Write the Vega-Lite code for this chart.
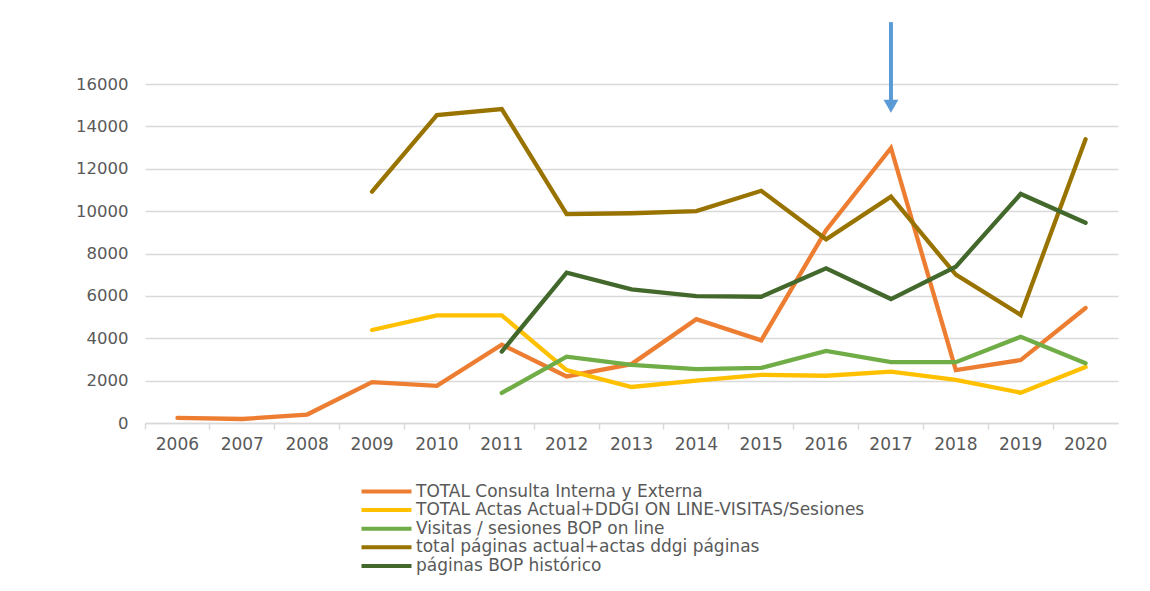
{
  "$schema": "https://vega.github.io/schema/vega-lite/v6.json",
  "width": 973,
  "height": 339,
  "autosize": {"type": "none"},
  "padding": {"left": 145, "top": 84, "right": 32, "bottom": 168},
  "background": "white",
  "config": {
    "view": {"stroke": null},
    "font": "DejaVu Sans"
  },
  "datasets": {
    "series": [
      {"year": "2006", "serie": "TOTAL Consulta Interna y Externa", "valor": 240},
      {"year": "2007", "serie": "TOTAL Consulta Interna y Externa", "valor": 190},
      {"year": "2008", "serie": "TOTAL Consulta Interna y Externa", "valor": 400},
      {"year": "2009", "serie": "TOTAL Consulta Interna y Externa", "valor": 1930},
      {"year": "2010", "serie": "TOTAL Consulta Interna y Externa", "valor": 1750},
      {"year": "2011", "serie": "TOTAL Consulta Interna y Externa", "valor": 3700},
      {"year": "2012", "serie": "TOTAL Consulta Interna y Externa", "valor": 2200},
      {"year": "2013", "serie": "TOTAL Consulta Interna y Externa", "valor": 2780},
      {"year": "2014", "serie": "TOTAL Consulta Interna y Externa", "valor": 4900},
      {"year": "2015", "serie": "TOTAL Consulta Interna y Externa", "valor": 3900},
      {"year": "2016", "serie": "TOTAL Consulta Interna y Externa", "valor": 9100},
      {"year": "2017", "serie": "TOTAL Consulta Interna y Externa", "valor": 12980},
      {"year": "2018", "serie": "TOTAL Consulta Interna y Externa", "valor": 2500},
      {"year": "2019", "serie": "TOTAL Consulta Interna y Externa", "valor": 2970},
      {"year": "2020", "serie": "TOTAL Consulta Interna y Externa", "valor": 5430},

      {"year": "2009", "serie": "TOTAL Actas Actual+DDGI ON LINE-VISITAS/Sesiones", "valor": 4390},
      {"year": "2010", "serie": "TOTAL Actas Actual+DDGI ON LINE-VISITAS/Sesiones", "valor": 5080},
      {"year": "2011", "serie": "TOTAL Actas Actual+DDGI ON LINE-VISITAS/Sesiones", "valor": 5080},
      {"year": "2012", "serie": "TOTAL Actas Actual+DDGI ON LINE-VISITAS/Sesiones", "valor": 2500},
      {"year": "2013", "serie": "TOTAL Actas Actual+DDGI ON LINE-VISITAS/Sesiones", "valor": 1700},
      {"year": "2014", "serie": "TOTAL Actas Actual+DDGI ON LINE-VISITAS/Sesiones", "valor": 2000},
      {"year": "2015", "serie": "TOTAL Actas Actual+DDGI ON LINE-VISITAS/Sesiones", "valor": 2270},
      {"year": "2016", "serie": "TOTAL Actas Actual+DDGI ON LINE-VISITAS/Sesiones", "valor": 2230},
      {"year": "2017", "serie": "TOTAL Actas Actual+DDGI ON LINE-VISITAS/Sesiones", "valor": 2420},
      {"year": "2018", "serie": "TOTAL Actas Actual+DDGI ON LINE-VISITAS/Sesiones", "valor": 2030},
      {"year": "2019", "serie": "TOTAL Actas Actual+DDGI ON LINE-VISITAS/Sesiones", "valor": 1430},
      {"year": "2020", "serie": "TOTAL Actas Actual+DDGI ON LINE-VISITAS/Sesiones", "valor": 2640},

      {"year": "2011", "serie": "Visitas / sesiones BOP on line", "valor": 1420},
      {"year": "2012", "serie": "Visitas / sesiones BOP on line", "valor": 3130},
      {"year": "2013", "serie": "Visitas / sesiones BOP on line", "valor": 2740},
      {"year": "2014", "serie": "Visitas / sesiones BOP on line", "valor": 2540},
      {"year": "2015", "serie": "Visitas / sesiones BOP on line", "valor": 2600},
      {"year": "2016", "serie": "Visitas / sesiones BOP on line", "valor": 3400},
      {"year": "2017", "serie": "Visitas / sesiones BOP on line", "valor": 2870},
      {"year": "2018", "serie": "Visitas / sesiones BOP on line", "valor": 2870},
      {"year": "2019", "serie": "Visitas / sesiones BOP on line", "valor": 4070},
      {"year": "2020", "serie": "Visitas / sesiones BOP on line", "valor": 2820},

      {"year": "2009", "serie": "total páginas actual+actas ddgi páginas", "valor": 10920},
      {"year": "2010", "serie": "total páginas actual+actas ddgi páginas", "valor": 14530},
      {"year": "2011", "serie": "total páginas actual+actas ddgi páginas", "valor": 14820},
      {"year": "2012", "serie": "total páginas actual+actas ddgi páginas", "valor": 9860},
      {"year": "2013", "serie": "total páginas actual+actas ddgi páginas", "valor": 9900},
      {"year": "2014", "serie": "total páginas actual+actas ddgi páginas", "valor": 10000},
      {"year": "2015", "serie": "total páginas actual+actas ddgi páginas", "valor": 10960},
      {"year": "2016", "serie": "total páginas actual+actas ddgi páginas", "valor": 8670},
      {"year": "2017", "serie": "total páginas actual+actas ddgi páginas", "valor": 10680},
      {"year": "2018", "serie": "total páginas actual+actas ddgi páginas", "valor": 7000},
      {"year": "2019", "serie": "total páginas actual+actas ddgi páginas", "valor": 5100},
      {"year": "2020", "serie": "total páginas actual+actas ddgi páginas", "valor": 13390},

      {"year": "2011", "serie": "páginas BOP histórico", "valor": 3370},
      {"year": "2012", "serie": "páginas BOP histórico", "valor": 7100},
      {"year": "2013", "serie": "páginas BOP histórico", "valor": 6310},
      {"year": "2014", "serie": "páginas BOP histórico", "valor": 5990},
      {"year": "2015", "serie": "páginas BOP histórico", "valor": 5960},
      {"year": "2016", "serie": "páginas BOP histórico", "valor": 7300},
      {"year": "2017", "serie": "páginas BOP histórico", "valor": 5850},
      {"year": "2018", "serie": "páginas BOP histórico", "valor": 7380},
      {"year": "2019", "serie": "páginas BOP histórico", "valor": 10810},
      {"year": "2020", "serie": "páginas BOP histórico", "valor": 9450}
    ],
    "flecha": [
      {"year": "2017", "desde": 18920, "hasta": 15200, "punta": 14950}
    ]
  },
  "layer": [
    {
      "data": {"name": "series"},
      "mark": {"type": "line", "strokeWidth": 4.3, "strokeCap": "round", "strokeJoin": "miter"},
      "encoding": {
        "x": {
          "field": "year", "type": "ordinal", "bandPosition": 0.5,
          "scale": {"type": "band", "domain": ["2006","2007","2008","2009","2010","2011","2012","2013","2014","2015","2016","2017","2018","2019","2020"], "paddingInner": 0, "paddingOuter": 0},
          "axis": {
            "title": null, "labelAngle": 0, "grid": false,
            "bandPosition": 0,
            "domainColor": "#d9d9d9", "domainWidth": 1.5,
            "tickColor": "#d9d9d9", "tickWidth": 1.5, "tickSize": 6,
            "labelFont": "DejaVu Sans", "labelFontSize": 17, "labelColor": "#595959",
            "labelPadding": 7, "labelOverlap": false
          }
        },
        "y": {
          "field": "valor", "type": "quantitative",
          "scale": {"domain": [0, 16000], "nice": false},
          "axis": {
            "title": null, "values": [0,2000,4000,6000,8000,10000,12000,14000,16000],
            "format": "d", "domain": false, "ticks": false,
            "gridColor": "#d9d9d9", "gridWidth": 1.5,
            "labelFont": "DejaVu Sans", "labelFontSize": 16.5, "labelColor": "#595959",
            "labelPadding": 17
          }
        },
        "color": {
          "field": "serie", "type": "nominal",
          "scale": {
            "domain": ["TOTAL Consulta Interna y Externa", "TOTAL Actas Actual+DDGI ON LINE-VISITAS/Sesiones", "Visitas / sesiones BOP on line", "total páginas actual+actas ddgi páginas", "páginas BOP histórico"],
            "range": ["#ED7D31", "#FFC000", "#70AD47", "#997300", "#43682B"]
          },
          "legend": {
            "title": null, "orient": "none", "legendX": 233, "legendY": 399,
            "direction": "vertical",
            "symbolType": "M-5,0L5,0", "symbolSize": 100, "symbolStrokeWidth": 4,
            "labelFont": "DejaVu Sans", "labelFontSize": 17, "labelColor": "#595959",
            "labelOffset": 21, "rowPadding": 0.6, "labelLimit": 700
          }
        }
      }
    },
    {
      "data": {"name": "flecha"},
      "mark": {"type": "rule", "color": "#5B9BD5", "strokeWidth": 4, "clip": false},
      "encoding": {
        "x": {"field": "year", "type": "ordinal", "bandPosition": 0.5},
        "y": {"field": "desde", "type": "quantitative"},
        "y2": {"field": "hasta"}
      }
    },
    {
      "data": {"name": "flecha"},
      "mark": {"type": "point", "shape": "triangle-down", "filled": true, "color": "#5B9BD5", "size": 220, "opacity": 1, "clip": false},
      "encoding": {
        "x": {"field": "year", "type": "ordinal", "bandPosition": 0.5},
        "y": {"field": "punta", "type": "quantitative"}
      }
    }
  ]
}
